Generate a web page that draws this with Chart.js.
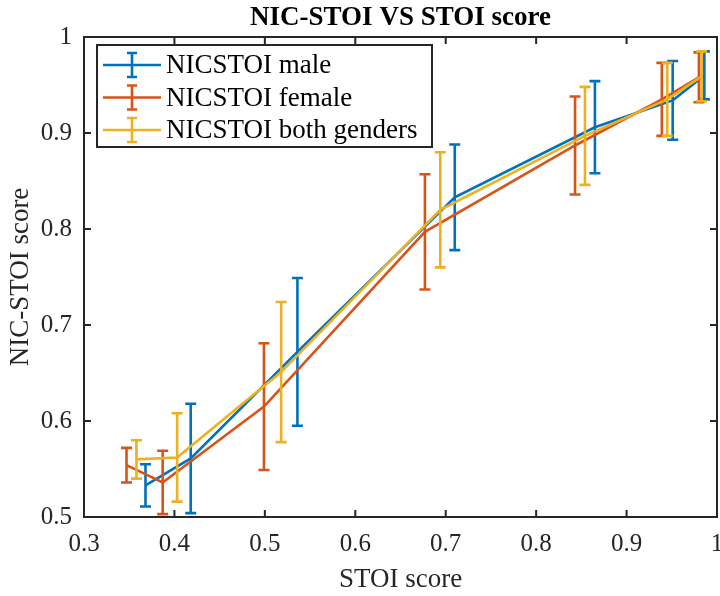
<!DOCTYPE html>
<html lang="en">
<head>
<meta charset="UTF-8">
<title>NIC-STOI VS STOI score</title>
<script src="https://cdn.jsdelivr.net/npm/chart.js"></script>
<style>
  html, body { margin: 0; padding: 0; background: #fff; }
  #chartContainer { width: 720px; height: 596px; }
</style>
</head>
<body>
<div id="chartContainer">
  <canvas id="myChart" width="720" height="596"></canvas>
</div>
<script>
  // values
  const seriesNames = ['NICSTOI male', 'NICSTOI female', 'NICSTOI both genders'];

  const maleX   = [0.368, 0.418, 0.536, 0.710, 0.865, 0.951, 0.986];
  const maleY   = [0.533, 0.561, 0.672, 0.833, 0.906, 0.934, 0.960];
  const maleErr = [0.022, 0.057, 0.077, 0.055, 0.048, 0.041, 0.025];

  const femaleX   = [0.347, 0.387, 0.499, 0.677, 0.843, 0.939, 0.980];
  const femaleY   = [0.554, 0.536, 0.615, 0.797, 0.887, 0.935, 0.958];
  const femaleErr = [0.018, 0.033, 0.066, 0.060, 0.051, 0.038, 0.026];

  const bothX   = [0.358, 0.403, 0.518, 0.694, 0.854, 0.945, 0.983];
  const bothY   = [0.560, 0.562, 0.651, 0.820, 0.897, 0.935, 0.959];
  const bothErr = [0.020, 0.046, 0.073, 0.060, 0.051, 0.038, 0.026];

  const xTicks = [0.3, 0.4, 0.5, 0.6, 0.7, 0.8, 0.9, 1];
  const yTicks = [0.5, 0.6, 0.7, 0.8, 0.9, 1];

  const colors = ['#0072BD', '#D95319', '#EDB120'];
  const errs = [maleErr, femaleErr, bothErr];
  const axisColor = '#262626';
  const serif = "'Liberation Serif', 'Times New Roman', serif";

  function points(xs, ys) {
    return xs.map((x, i) => ({ x: x, y: ys[i] }));
  }
  function tickText(v) {
    return v === 1 ? '1' : v.toFixed(1);
  }

  // error bars, drawn right after each line so the stacking matches
  const errorBars = {
    id: 'errorBars',
    afterDatasetDraw(chart, args) {
      const i = args.index;
      const ds = chart.data.datasets[i];
      const xs = chart.scales.x, ys = chart.scales.y;
      const ctx = chart.ctx;
      ctx.save();
      ctx.strokeStyle = ds.borderColor;
      ctx.lineWidth = 2.6;
      ds.data.forEach((p, k) => {
        const px = xs.getPixelForValue(p.x);
        const top = ys.getPixelForValue(p.y + errs[i][k]);
        const bot = ys.getPixelForValue(p.y - errs[i][k]);
        ctx.beginPath();
        ctx.moveTo(px, top); ctx.lineTo(px, bot);
        ctx.moveTo(px - 5.5, top); ctx.lineTo(px + 5.5, top);
        ctx.moveTo(px - 5.5, bot); ctx.lineTo(px + 5.5, bot);
        ctx.stroke();
      });
      ctx.restore();
    }
  };

  // matlab style box with inward ticks
  const axesBox = {
    id: 'axesBox',
    beforeDatasetsDraw(chart) {
      const { ctx, chartArea: a } = chart;
      const xs = chart.scales.x, ys = chart.scales.y;
      ctx.save();
      ctx.strokeStyle = axisColor;
      ctx.lineWidth = 2;
      ctx.strokeRect(a.left, a.top, a.right - a.left, a.bottom - a.top);
      ctx.beginPath();
      xTicks.forEach(v => {
        const px = xs.getPixelForValue(v);
        ctx.moveTo(px, a.bottom); ctx.lineTo(px, a.bottom - 7);
        ctx.moveTo(px, a.top); ctx.lineTo(px, a.top + 7);
      });
      yTicks.forEach(v => {
        const py = ys.getPixelForValue(v);
        ctx.moveTo(a.left, py); ctx.lineTo(a.left + 7, py);
        ctx.moveTo(a.right, py); ctx.lineTo(a.right - 7, py);
      });
      ctx.stroke();
      ctx.restore();
    }
  };

  // legend box in the upper left corner
  const boxLegend = {
    id: 'boxLegend',
    afterDraw(chart) {
      const ctx = chart.ctx;
      const left = 97, top = 45, right = 432, bottom = 147;
      ctx.save();
      ctx.fillStyle = '#fff';
      ctx.fillRect(left, top, right - left, bottom - top);
      ctx.strokeStyle = axisColor;
      ctx.lineWidth = 2;
      ctx.strokeRect(left, top, right - left, bottom - top);
      ctx.font = '27px ' + serif;
      ctx.textBaseline = 'middle';
      seriesNames.forEach((name, i) => {
        const y = 65 + i * 32.5;
        ctx.strokeStyle = colors[i];
        ctx.lineWidth = 2.6;
        ctx.beginPath();
        ctx.moveTo(103, y); ctx.lineTo(161, y);
        ctx.moveTo(132, y - 12); ctx.lineTo(132, y + 12);
        ctx.moveTo(127, y - 12); ctx.lineTo(137, y - 12);
        ctx.moveTo(127, y + 12); ctx.lineTo(137, y + 12);
        ctx.stroke();
        ctx.fillStyle = '#000';
        ctx.fillText(name, 166, y + 1);
      });
      ctx.restore();
    }
  };

  const seriesX = [maleX, femaleX, bothX];
  const seriesY = [maleY, femaleY, bothY];

  const ctx = document.getElementById('myChart').getContext('2d');
  const chart = new Chart(ctx, {
    type: 'scatter',
    data: {
      datasets: seriesNames.map((name, i) => ({
        label: name,
        data: points(seriesX[i], seriesY[i]),
        borderColor: colors[i],
        backgroundColor: colors[i],
        borderWidth: 2.6,
        showLine: true,
        pointRadius: 0,
        tension: 0,
        order: 3 - i // yellow ends up on top
      }))
    },
    options: {
      responsive: false,
      animation: false,
      layout: { padding: { top: 0, right: 3, bottom: 0, left: 0 } },
      plugins: {
        legend: { display: false },
        tooltip: { enabled: false },
        title: {
          display: true,
          text: 'NIC-STOI VS STOI score',
          fullSize: false,
          color: '#000',
          font: { family: serif, size: 27, weight: 'bold', lineHeight: 1.2 },
          padding: { top: 2, bottom: 2.6 }
        }
      },
      scales: {
        x: {
          type: 'linear',
          min: 0.3,
          max: 1,
          afterBuildTicks: s => { s.ticks = xTicks.map(v => ({ value: v })); },
          afterFit: s => { s.height = 79; s.paddingLeft = 0; s.paddingRight = 0; },
          grid: { display: false, drawTicks: false },
          border: { display: false },
          ticks: {
            color: axisColor,
            padding: 12,
            maxRotation: 0,
            font: { family: serif, size: 25 },
            callback: v => tickText(v)
          },
          title: {
            display: true,
            text: 'STOI score',
            color: axisColor,
            font: { family: serif, size: 27, lineHeight: 1.2 },
            padding: { top: 0, bottom: 0 }
          }
        },
        y: {
          type: 'linear',
          min: 0.5,
          max: 1,
          afterBuildTicks: s => { s.ticks = yTicks.map(v => ({ value: v })); },
          afterFit: s => { s.width = 84; },
          grid: { display: false, drawTicks: false },
          border: { display: false },
          ticks: {
            color: axisColor,
            padding: 12,
            font: { family: serif, size: 25 },
            callback: v => tickText(v)
          },
          title: {
            display: true,
            text: 'NIC-STOI score',
            color: axisColor,
            font: { family: serif, size: 27, lineHeight: 1.2 },
            padding: { top: 5, bottom: 0 }
          }
        }
      }
    },
    plugins: [axesBox, errorBars, boxLegend]
  });
</script>
</body>
</html>
